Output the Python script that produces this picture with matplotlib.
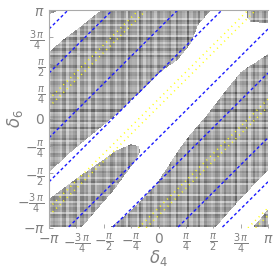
import numpy as np
import matplotlib
matplotlib.use("Agg")
import matplotlib.pyplot as plt
from matplotlib.path import Path

PI = np.pi

# boundaries of the shaded regions (units of pi): (delta4, delta6)
# lower edge of the upper grey band, top edge -> left edge
b1_d4 = [0.49, 0.36, 0.30, 0.18, 0.06, 0.0, -0.21, -0.42, -0.64, -0.82, -1.0]
b1_d6 = [1.0, 0.85, 0.69, 0.54, 0.45, 0.40, 0.20, 0.0, -0.18, -0.33, -0.50]
# upper edge of the lower grey band, right edge -> bottom edge
b2_d4 = [1.0, 0.75, 0.60, 0.42, 0.30, 0.18, 0.0, -0.25, -0.44]
b2_d6 = [0.59, 0.42, 0.235, 0.0, -0.14, -0.30, -0.58, -0.85, -1.0]
# grey island lower left: upper edge (left -> tip) then lower edge (tip -> bottom)
isl_d4 = [-1.0, -0.70, -0.39, -0.25, -0.18, -0.17, -0.20, -0.39, -0.70]
isl_d6 = [-0.745, -0.52, -0.30, -0.24, -0.26, -0.31, -0.37, -0.64, -1.0]
# grey patch in the top right corner
tr_d4 = [1.0, 0.84, 0.81, 0.81]
tr_d6 = [0.87, 0.88, 0.92, 1.0]
# white corner top left
tl_d4 = [-1.0, -0.88, -0.70, -0.61, -0.505, -0.86, -1.0]
tl_d6 = [0.604, 0.71, 0.847, 0.92, 1.0, 1.0, 0.95]
# white band bottom right
br_d4 = [1.0, 0.75, 0.52, 0.86, 0.93, 1.0]
br_d6 = [-0.48, -0.74, -1.0, -1.0, -0.92, -0.83]

# diagonal lines delta6 = delta4 + c*pi (repeat every pi)
blue_c = [0.42, 0.825]
yellow_c = [0.11, 0.18]

ticks = np.arange(-4, 5) * PI / 4
tick_labels = [r'$-\pi$', r'$-\frac{3\,\pi}{4}$', r'$-\frac{\pi}{2}$', r'$-\frac{\pi}{4}$', r'$0$',
               r'$\frac{\pi}{4}$', r'$\frac{\pi}{2}$', r'$\frac{3\,\pi}{4}$', r'$\pi$']

plt.rcParams['mathtext.fontset'] = 'dejavusans'
txt = '#808080'

fig = plt.figure(figsize=(2.73, 2.73), dpi=100)
ax = fig.add_axes([49 / 273, 45.5 / 273, 219 / 273, 217.5 / 273])

# white regions
white_polys = [
    np.column_stack([b1_d4 + isl_d4 + b2_d4[::-1] + tr_d4, b1_d6 + isl_d6 + b2_d6[::-1] + tr_d6]),
    np.column_stack([tl_d4, tl_d6]),
    np.column_stack([br_d4, br_d6]),
]

n = 440
g = np.linspace(-1, 1, n, endpoint=False) + 1.0 / n
X, Y = np.meshgrid(g, g)
pts = np.column_stack([X.ravel(), Y.ravel()])
white = np.zeros(n * n, bool)
for p in white_polys:
    white |= Path(p).contains_points(pts)
white = white.reshape(n, n)

# plaid shading of the grey region
cells = np.floor((g + 1) / 2 * 100) * 2 * PI / 100
def stripe(t):
    return 0.62 + 0.2 * np.cos(23 * t) + 0.16 * np.cos(37 * t + 1.1) + 0.12 * np.cos(59 * t + 2.3)
sx, sy = np.meshgrid(stripe(cells), stripe(cells * 1.07 + 0.4))
Z = np.clip(0.16 + 0.8 * (sx + sy) / 2, 0.1, 0.84)
img = np.dstack([Z, Z, Z])
img[white] = 1.0
ax.imshow(img, extent=[-PI, PI, -PI, PI], origin='lower', interpolation='nearest', aspect='auto')

xs = np.array([-PI, PI])
for k in range(-3, 3):
    for c in blue_c:
        ax.plot(xs, xs + (c + k) * PI, color='#1a1aff', lw=1.0, dashes=(2.2, 1.8))
    for c in yellow_c:
        ax.plot(xs, xs + (c + k) * PI, color='#ffff10', lw=1.1, dashes=(0.7, 2.6))

ax.set_xlim(-PI, PI)
ax.set_ylim(-PI, PI)
ax.set_xticks(ticks)
ax.set_yticks(ticks)
ax.set_xticklabels(tick_labels, fontsize=10, color=txt)
ax.set_yticklabels(tick_labels, fontsize=10, color=txt)
ax.tick_params(direction='in', length=3, width=0.6, color='#999999', pad=3)
for s in ['bottom', 'right']:
    ax.spines[s].set_visible(False)
for s in ['top', 'left']:
    ax.spines[s].set_color('#aaaaaa')
    ax.spines[s].set_linewidth(0.8)
ax.set_xlabel(r'$\delta_4$', fontsize=12, color=txt, va='center')
ax.set_ylabel(r'$\delta_6$', fontsize=12, color=txt, va='center')
ax.xaxis.set_label_coords(0.5, -0.14)
ax.yaxis.set_label_coords(-0.155, 0.5)

fig.savefig('out.png', dpi=100)
